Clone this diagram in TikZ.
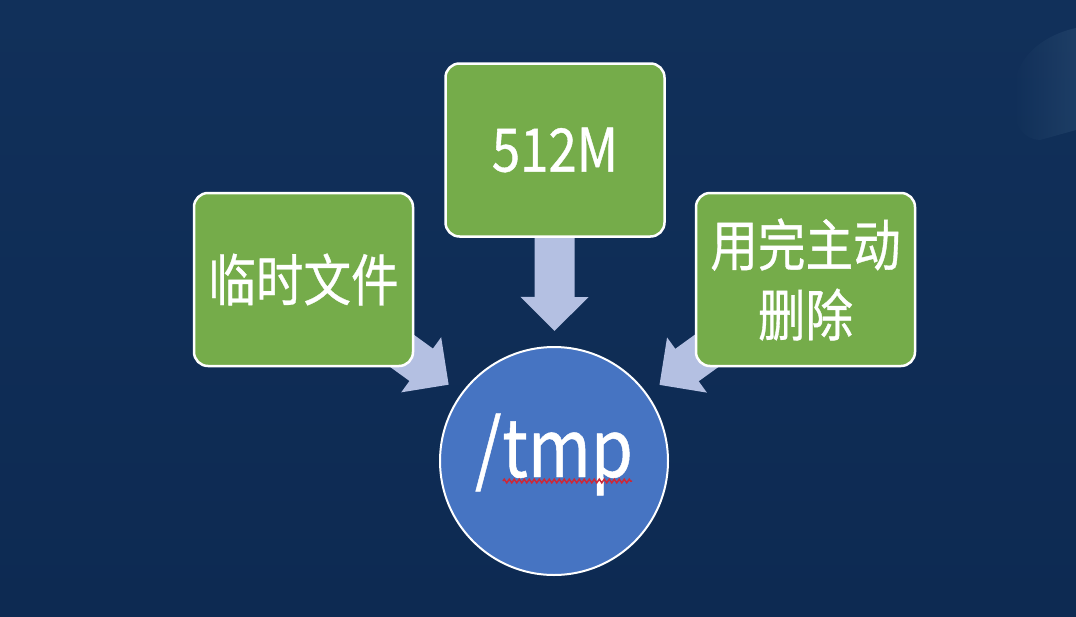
\documentclass[tikz,border=0pt]{standalone}
\usepackage{fontspec}
\newfontfamily\cjk[FakeStretch=0.85,FakeBold=0.6]{Noto Sans CJK SC}
\usetikzlibrary{arrows.meta,decorations.pathmorphing,backgrounds,fadings}
\definecolor{bgtop}{RGB}{17,48,90}
\definecolor{bgbot}{RGB}{13,42,82}
\definecolor{boxgreen}{RGB}{117,172,74}
\definecolor{tmpblue}{RGB}{70,116,194}
\definecolor{arrowlav}{RGB}{180,192,226}
\definecolor{squiggle}{RGB}{205,40,55}
\definecolor{glare}{RGB}{60,95,130}

\begin{document}
\begin{tikzpicture}[x=1pt, y=-1pt,
    box/.style = {draw=white, line width=2.5pt, fill=boxgreen, rounded corners=14pt,
        minimum width=219pt, minimum height=173pt, inner sep=0pt,
        text=white, align=center, font=\cjk\fontsize{56}{70}\selectfont},
    disc/.style = {circle, draw=white, line width=2pt, fill=tmpblue, minimum size=228pt,
        inner sep=0pt, text height=48pt, text depth=16pt,
        text=white, font=\cjk\fontsize{80}{90}\selectfont},
    fat/.style = {draw=arrowlav, line width=40pt, -{Triangle[width=66pt, length=34pt]}, shorten >=15pt}]
    \node[box] (files)  at (303.5,279.5) {临时文件};
    \node[box, font=\cjk\fontsize{60}{70}\selectfont] (size) at (555,150) {512M};
    \node[box] (delete) at (805.5,279.5) {用完主动\\删除};
    \node[disc] (tmp)   at (554,461)     {/tmp};

    \begin{pgfonlayer}{background}
        \shade[top color=bgtop, bottom color=bgbot] (0,0) rectangle (1076,616);
        % glare in the corner
        \fill[glare, opacity=.3, path fading=west] (1076,28) .. controls (1040,36) and (1012,60) .. (1012,100)
            .. controls (1012,125) and (1025,140) .. (1040,140) -- (1076,130) -- cycle;
        \draw[fat] (files.center) -- (tmp);
        \draw[fat] (size.center) -- (tmp);
        \draw[fat] (delete.center) -- (tmp);
    \end{pgfonlayer}

    % spell-check underline
    \coordinate (wavea) at (503,481);
    \coordinate (waveb) at (632,481);
    \draw[squiggle, line width=1.5pt, decorate, decoration={zigzag, segment length=5pt, amplitude=1.8pt}] (wavea) -- (waveb);
\end{tikzpicture}
\end{document}
